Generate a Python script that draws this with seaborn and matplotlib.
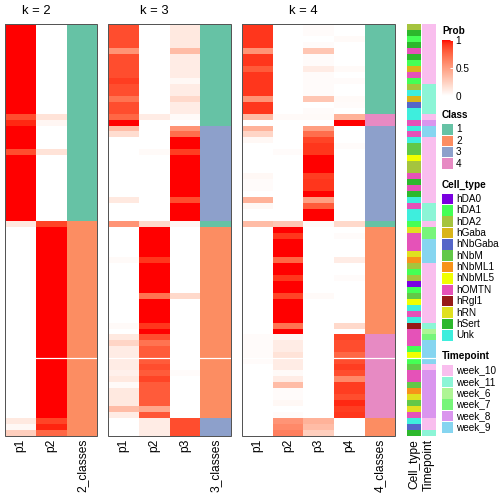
import numpy as np
import pandas as pd
import seaborn as sns
import matplotlib.pyplot as plt
from matplotlib.colors import ListedColormap
from matplotlib.patches import Rectangle

# membership probabilities per sample (69 rows, top to bottom)
k2_p1 = [1, 1, 1, 1, 1, 1, 1, 1, 1, 1,
         1, 1, 1, 1, 1, 0.85, 0.95, 1, 1, 1,
         1, 0.85, 1, 1, 1, 1, 1, 1, 1, 1,
         1, 1, 1, 0.12, 0, 0, 0, 0, 0, 0,
         0, 0, 0, 0, 0, 0, 0, 0, 0, 0,
         0, 0, 0, 0, 0, 0, 0, 0, 0, 0,
         0, 0, 0, 0, 0, 0, 0.12, 0.04, 0.25]
k2_p2 = [0, 0, 0, 0, 0, 0, 0, 0, 0, 0,
         0, 0, 0, 0, 0, 0.15, 0.05, 0, 0, 0,
         0, 0.15, 0, 0, 0, 0, 0, 0, 0, 0,
         0, 0, 0, 0.88, 1, 1, 1, 1, 1, 1,
         1, 1, 1, 1, 1, 1, 1, 1, 1, 1,
         1, 1, 1, 1, 1, 1, 1, 1, 1, 1,
         1, 1, 1, 1, 1, 1, 0.88, 0.96, 0.75]
k2_class = [1, 1, 1, 1, 1, 1, 1, 1, 1, 1,
            1, 1, 1, 1, 1, 1, 1, 1, 1, 1,
            1, 1, 1, 1, 1, 1, 1, 1, 1, 1,
            1, 1, 1, 2, 2, 2, 2, 2, 2, 2,
            2, 2, 2, 2, 2, 2, 2, 2, 2, 2,
            2, 2, 2, 2, 2, 2, 2, 2, 2, 2,
            2, 2, 2, 2, 2, 2, 2, 2, 2]

k3_p1 = [0.85, 0.85, 0.85, 0.85, 0.55, 0.85, 0.85, 0.85, 0.85, 0.9,
         0.85, 0.85, 0.7, 0.85, 0.85, 0.75, 1, 0.35, 0.18, 0,
         0, 0, 0, 0, 0, 0, 0, 0, 0, 0.12,
         0, 0, 0, 0.55, 0, 0, 0, 0, 0, 0.03,
         0, 0, 0, 0, 0, 0, 0, 0, 0, 0,
         0.03, 0, 0.12, 0.22, 0.1, 0.1, 0.1, 0.1, 0.08, 0.12,
         0.03, 0.12, 0.12, 0.12, 0.35, 0.1, 0, 0, 0]
k3_p2 = [0, 0, 0, 0, 0, 0, 0, 0, 0, 0,
         0, 0, 0, 0, 0, 0.1, 0, 0, 0, 0,
         0, 0.03, 0, 0, 0, 0, 0, 0, 0, 0,
         0, 0, 0, 0.2, 1, 1, 1, 1, 1, 0.92,
         1, 1, 1, 1, 1, 0.7, 1, 1, 1, 1,
         0.92, 1, 0.85, 0.7, 0.8, 0.8, 0.8, 0.85, 0.8, 0.88,
         0.8, 0.8, 0.8, 0.8, 0.45, 0.82, 0.1, 0.1, 0.1]
k3_p3 = [0.12, 0.12, 0.12, 0.12, 0.35, 0.1, 0.1, 0.1, 0.1, 0.04,
         0.1, 0.1, 0.2, 0.1, 0.1, 0.03, 0, 0.55, 0.72, 1,
         1, 0.9, 1, 1, 1, 1, 1, 1, 1, 0.85,
         1, 1, 1, 0.05, 0, 0, 0, 0, 0, 0,
         0, 0, 0, 0, 0, 0.2, 0, 0, 0, 0,
         0, 0, 0, 0, 0, 0, 0, 0, 0.02, 0,
         0, 0, 0, 0, 0, 0, 0.85, 0.85, 0.85]
k3_class = [1, 1, 1, 1, 1, 1, 1, 1, 1, 1,
            1, 1, 1, 1, 1, 1, 1, 3, 3, 3,
            3, 3, 3, 3, 3, 3, 3, 3, 3, 3,
            3, 3, 3, 1, 2, 2, 2, 2, 2, 2,
            2, 2, 2, 2, 2, 2, 2, 2, 2, 2,
            2, 2, 2, 2, 2, 2, 2, 2, 2, 2,
            2, 2, 2, 2, 2, 2, 3, 3, 3]

k4_p1 = [0.92, 0.92, 0.92, 0.92, 0.55, 0.92, 0.92, 0.8, 0.92, 0.92,
         0.92, 0.92, 0.55, 0.92, 0.92, 0.35, 0, 0.4, 0.22, 0.04,
         0, 0, 0, 0, 0, 0.04, 0.02, 0.02, 0, 0.4,
         0.04, 0, 0, 0.35, 0, 0, 0, 0, 0, 0,
         0, 0, 0, 0, 0, 0, 0, 0, 0, 0,
         0, 0, 0.02, 0.02, 0.02, 0.02, 0.02, 0, 0, 0,
         0, 0, 0, 0, 0, 0, 0, 0, 0]
k4_p2 = [0, 0, 0, 0, 0, 0, 0, 0, 0, 0,
         0, 0, 0, 0, 0, 0.03, 0, 0, 0, 0,
         0, 0.02, 0, 0, 0, 0, 0, 0, 0, 0,
         0, 0, 0, 0.3, 1, 0.92, 1, 1, 1, 0.75,
         1, 1, 0.92, 1, 1, 0.88, 1, 1, 1, 1,
         0.7, 1, 0.05, 0.1, 0.1, 0.15, 0.1, 0.1, 0.03, 0.1,
         0.35, 0.02, 0.02, 0.04, 0, 0.02, 0.55, 0.6, 0.65]
k4_p3 = [0.02, 0.02, 0, 0.02, 0.3, 0.02, 0.02, 0.1, 0.02, 0.02,
         0.02, 0.02, 0.3, 0, 0.02, 0.03, 0, 0.5, 0.72, 0.88,
         0.92, 0.92, 1, 1, 1, 0.9, 0.92, 0.92, 1, 0.5,
         0.8, 1, 1, 0.03, 0, 0, 0, 0, 0, 0,
         0, 0, 0, 0, 0, 0.03, 0, 0, 0, 0,
         0, 0, 0, 0, 0, 0, 0, 0, 0, 0,
         0, 0, 0, 0, 0, 0, 0.4, 0.35, 0.25]
k4_p4 = [0, 0, 0.03, 0, 0, 0, 0, 0.03, 0, 0.02,
         0, 0, 0.03, 0.02, 0, 0.4, 1, 0, 0, 0,
         0.02, 0, 0, 0, 0, 0, 0, 0, 0, 0,
         0, 0, 0, 0.2, 0, 0.02, 0, 0, 0, 0.1,
         0, 0, 0.02, 0, 0, 0, 0, 0, 0, 0,
         0.2, 0, 0.88, 0.85, 0.85, 0.75, 0.85, 0.9, 0.85, 0.6,
         0.9, 0.9, 0.85, 0.95, 0.9, 0.92, 0, 0, 0]
k4_class = [1, 1, 1, 1, 1, 1, 1, 1, 1, 1,
            1, 1, 1, 1, 1, 4, 4, 3, 3, 3,
            3, 3, 3, 3, 3, 3, 3, 3, 3, 3,
            3, 3, 3, 1, 2, 2, 2, 2, 2, 2,
            2, 2, 2, 2, 2, 2, 2, 2, 2, 2,
            2, 2, 4, 4, 4, 4, 4, 4, 4, 4,
            4, 4, 4, 4, 4, 4, 2, 2, 2]

cell_type = ['hDA2', 'hSert', 'hDA1', 'hSert', 'hOMTN', 'hSert', 'hDA1', 'hGaba', 'hOMTN', 'hDA1',
             'hDA2', 'Unk', 'hGaba', 'hNbGaba', 'Unk', 'Unk', 'hOMTN', 'Unk', 'hOMTN', 'Unk',
             'hNbM', 'hNbM', 'hNbML5', 'hDA2', 'hDA2', 'hOMTN', 'hSert', 'hOMTN', 'hSert', 'Unk',
             'hOMTN', 'Unk', 'Unk', 'hDA1', 'hRN', 'hOMTN', 'hOMTN', 'hOMTN', 'hRN', 'hNbML1',
             'hDA2', 'hDA1', 'hDA2', 'hDA0', 'hDA1', 'hNbM', 'hNbML5', 'Unk', 'hOMTN', 'Unk',
             'hRgl1', 'hOMTN', 'hOMTN', 'hOMTN', 'hDA1', 'hNbML5', 'hDA1', 'hNbM', 'hOMTN', 'hOMTN',
             'hNbM', 'hNbML1', 'hRN', 'hNbM', 'hRN', 'hOMTN', 'Unk', 'hNbGaba', 'hSert']
timepoint = ['week_10', 'week_10', 'week_10', 'week_10', 'week_10', 'week_10', 'week_10', 'week_10', 'week_10', 'week_10',
             'week_11', 'week_11', 'week_11', 'week_11', 'week_11', 'week_10', 'week_8', 'week_9', 'week_9', 'week_10',
             'week_10', 'week_10', 'week_10', 'week_10', 'week_10', 'week_10', 'week_10', 'week_10', 'week_10', 'week_10',
             'week_11', 'week_11', 'week_11', 'week_10', 'week_7', 'week_7', 'week_9', 'week_9', 'week_9', 'week_9',
             'week_10', 'week_10', 'week_10', 'week_10', 'week_10', 'week_10', 'week_10', 'week_10', 'week_10', 'week_10',
             'week_11', 'week_6', 'week_7', 'week_9', 'week_9', 'week_9', 'week_9', 'week_10', 'week_8', 'week_8',
             'week_8', 'week_8', 'week_8', 'week_8', 'week_8', 'week_8', 'week_10', 'week_10', 'week_11']

class_levels = ['1', '2', '3', '4']
class_colors = ['#66C2A5', '#FC8D62', '#8DA0CB', '#E78AC3']
cell_type_levels = ['hDA0', 'hDA1', 'hDA2', 'hGaba', 'hNbGaba', 'hNbM', 'hNbML1',
                    'hNbML5', 'hOMTN', 'hRgl1', 'hRN', 'hSert', 'Unk']
cell_type_colors = ['#7A00E0', '#44FF55', '#A5C43E', '#D9B51A', '#5566C8', '#62C848', '#F7931A',
                    '#F0FF00', '#E552B8', '#961A17', '#E0E020', '#2CB82C', '#3EEEDD']
timepoint_levels = ['week_10', 'week_11', 'week_6', 'week_7', 'week_8', 'week_9']
timepoint_colors = ['#F9BEEE', '#8CF5D6', '#AEF595', '#77F57A', '#DA95EE', '#86D5F0']

split_row = 56  # gap between the two row slices


def white_red_lab(n=256):
    # white -> red interpolated in CIE Lab, like colorRamp2
    t = np.linspace(0, 1, n)
    L = 100 - 46.76 * t
    a = 80.09 * t
    b = 67.20 * t
    fy = (L + 16) / 116
    fx = fy + a / 500
    fz = fy - b / 200

    def finv(f):
        return np.where(f > 6 / 29, f ** 3, 3 * (6 / 29) ** 2 * (f - 4 / 29))

    xyz = np.stack([0.95047 * finv(fx), finv(fy), 1.08883 * finv(fz)], axis=1)
    M = np.array([[3.2406, -1.5372, -0.4986],
                  [-0.9689, 1.8758, 0.0415],
                  [0.0557, -0.2040, 1.0570]])
    rgb = np.clip(xyz @ M.T, 0, 1)
    rgb = np.where(rgb <= 0.0031308, 12.92 * rgb, 1.055 * rgb ** (1 / 2.4) - 0.055)
    return ListedColormap(np.clip(rgb, 0, 1))


prob_cmap = white_red_lab()

plt.rcParams['font.family'] = ['Liberation Sans', 'DejaVu Sans']
W = H = 504
fig = plt.figure(figsize=(7, 7), dpi=72)


def px_axes(x0, y0, x1, y1):
    return fig.add_axes([x0 / W, 1 - y1 / H, (x1 - x0) / W, (y1 - y0) / H])


top, bottom = 24, 436
col_w = 30.67

cax = px_axes(441.7, 40, 452.7, 96)

blocks = [
    ('k = 2', 5.3, pd.DataFrame({'p1': k2_p1, 'p2': k2_p2}), k2_class, '2_classes'),
    ('k = 3', 108.3, pd.DataFrame({'p1': k3_p1, 'p2': k3_p2, 'p3': k3_p3}), k3_class, '3_classes'),
    ('k = 4', 242.0, pd.DataFrame({'p1': k4_p1, 'p2': k4_p2, 'p3': k4_p3, 'p4': k4_p4}), k4_class, '4_classes'),
]

for i, (title, x0, prob, cls, cls_name) in enumerate(blocks):
    n = prob.shape[1]
    ax = px_axes(x0, top, x0 + n * col_w, bottom)
    sns.heatmap(prob, ax=ax, cmap=prob_cmap, vmin=0, vmax=1, yticklabels=False,
                cbar=(i == 0), cbar_ax=cax if i == 0 else None)
    ax_c = px_axes(x0 + n * col_w, top, x0 + (n + 1) * col_w, bottom)
    sns.heatmap(pd.DataFrame({cls_name: cls}), ax=ax_c, cmap=ListedColormap(class_colors),
                vmin=0.5, vmax=4.5, cbar=False, yticklabels=False)
    for a in (ax, ax_c):
        a.axhline(split_row, color='white', lw=1.2)
        a.tick_params(axis='x', length=0, pad=3, labelsize=12, labelrotation=90)
    fig.text((x0 + n * col_w / 2) / W, 1 - 11 / H, title, ha='center', va='center', fontsize=13)
    fig.add_artist(Rectangle((x0 / W, 1 - bottom / H), (n + 1) * col_w / W, (bottom - top) / H,
                             transform=fig.transFigure, fill=False, edgecolor='#555555', lw=1))

# row annotations
for name, values, levels, colors, xa in [
        ('Cell_type', cell_type, cell_type_levels, cell_type_colors, 407),
        ('Timepoint', timepoint, timepoint_levels, timepoint_colors, 422)]:
    codes = [levels.index(v) for v in values]
    ax_a = px_axes(xa, top, xa + 14, bottom)
    sns.heatmap(pd.DataFrame({name: codes}), ax=ax_a, cmap=ListedColormap(colors),
                vmin=-0.5, vmax=len(levels) - 0.5, cbar=False, yticklabels=False)
    ax_a.axhline(split_row, color='white', lw=1.2)
    ax_a.tick_params(axis='x', length=0, pad=3, labelsize=12, labelrotation=90)

# Prob colour bar
cbar = fig.axes[1].collections[0].colorbar
cbar.set_ticks([0, 0.5, 1])
cbar.set_ticklabels(['0', '0.5', '1'])
cbar.outline.set_visible(False)
cax.tick_params(color='white', direction='in', length=3, width=1, labelsize=10, pad=3)

# legends
lg = fig.add_axes([0, 0, 1, 1])
lg.set_xlim(0, W)
lg.set_ylim(H, 0)
lg.axis('off')
lg.text(442, 31, 'Prob', fontweight='bold', fontsize=10, va='center')


def cat_legend(title, y_title, y_first, labels, colors):
    lg.text(442, y_title, title, fontweight='bold', fontsize=10, va='center')
    for j, (lab, col) in enumerate(zip(labels, colors)):
        yc = y_first + 11.35 * j
        lg.add_patch(Rectangle((441.7, yc - 5.3), 10.8, 10.6, facecolor=col, edgecolor='none'))
        lg.text(456, yc, lab, fontsize=10, va='center')


cat_legend('Class', 115, 129.5, class_levels, class_colors)
cat_legend('Cell_type', 185, 199, cell_type_levels, cell_type_colors)
cat_legend('Timepoint', 356, 370.5, timepoint_levels, timepoint_colors)

fig.savefig('out.png', dpi=72)
